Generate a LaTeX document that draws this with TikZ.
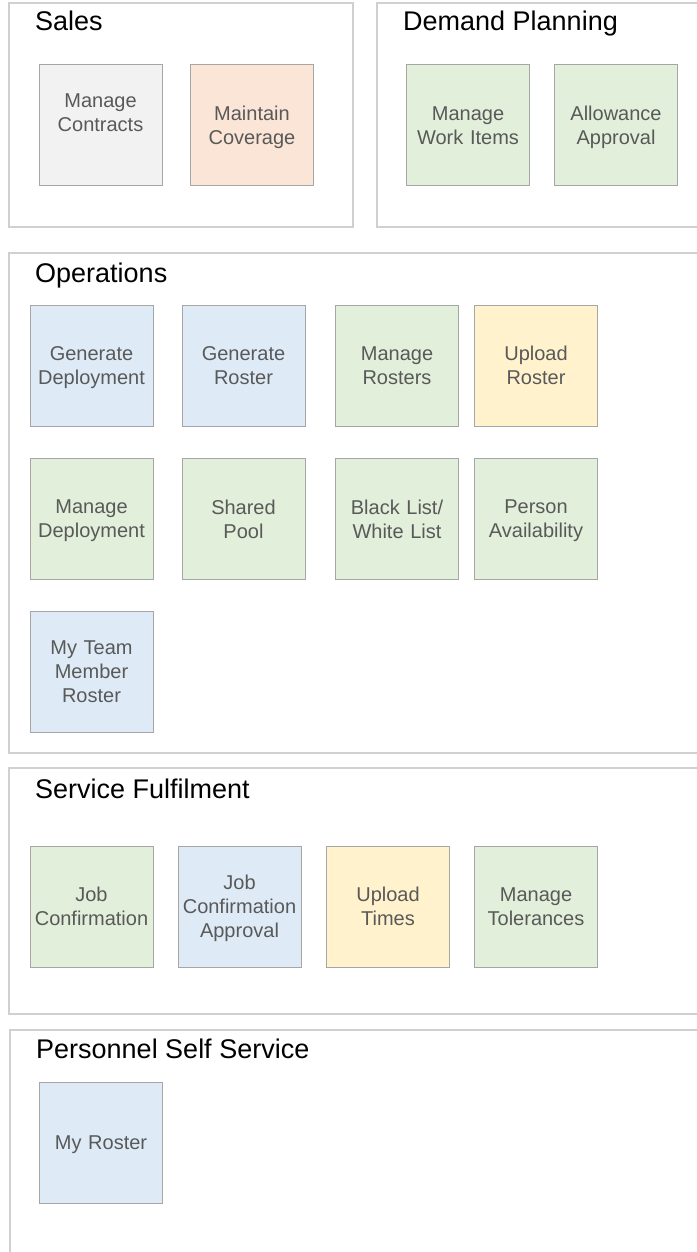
\documentclass[tikz,border=0pt]{standalone}
\usepackage{fontspec}
\setmainfont{Liberation Sans}
\usepackage{tikz}

\definecolor{tilegrey}{HTML}{F2F2F2}
\definecolor{tilepeach}{HTML}{FBE5D6}
\definecolor{tilegreen}{HTML}{E2EFDA}
\definecolor{tileblue}{HTML}{DEEBF7}
\definecolor{tileyellow}{HTML}{FFF2CC}
\definecolor{tileline}{HTML}{A6A6A6}
\definecolor{arealine}{HTML}{D0D0D0}
\definecolor{tiletext}{HTML}{595959}

\newcommand{\tilefont}{\fontsize{20}{24}\selectfont}
\newcommand{\areafont}{\fontsize{27}{30}\selectfont}

\tikzset{
	tile/.style={draw=tileline,line width=1pt,minimum width=123pt,minimum height=121pt,
		inner sep=0pt,text width=121pt,align=center,text=tiletext,font=\tilefont},
	area/.style={draw=arealine,line width=1.3pt},
	areatitle/.style={anchor=base west,inner sep=0pt,font=\areafont},
	lifted/.style={text depth=50pt},
	sunkone/.style={text depth=0pt},
	sunktwo/.style={text depth=24pt},
	sunkthree/.style={text depth=48pt},
	plain/.style={}
}

\begin{document}
\begin{tikzpicture}[x=1pt,y=-1pt]
\useasboundingbox (0,0) rectangle (696,1252);
% areas
\draw[area] (9,3) rectangle (353,227);
\draw[area] (377,3) rectangle (710,227);
\draw[area] (9,253) rectangle (710,753);
\draw[area] (9,768) rectangle (710,1014);
\draw[area] (10,1030) rectangle (710,1270);
\node[areatitle] (sales) at (35,31) {Sales};
\node[areatitle] (demand) at (403,31) {Demand Planning};
\node[areatitle] (ops) at (35,282) {Operations};
\node[areatitle] (service) at (35,798) {Service Fulfilment};
\node[areatitle] (selfservice) at (36,1058) {Personnel Self Service};
% tiles
\foreach \n/\x/\c/\l/\s in{
	contracts/{(100.5,125.5)}/tilegrey/{Manage\\Contracts}/lifted,
	coverage/{(252,125.5)}/tilepeach/{Maintain\\Coverage}/sunktwo,
	workitems/{(468,125.5)}/tilegreen/{Manage\\Work Items}/plain,
	allowance/{(616,125.5)}/tilegreen/{Allowance\\Approval}/sunktwo,
	gendeploy/{(91.5,365.5)}/tileblue/{Generate\\Deployment}/sunktwo,
	genroster/{(243.5,365.5)}/tileblue/{Generate\\Roster}/plain,
	rosters/{(397,365.5)}/tilegreen/{Manage\\Rosters}/plain,
	uproster/{(536,365.5)}/tileyellow/{Upload\\Roster}/plain,
	deploy/{(91.5,519)}/tilegreen/{Manage\\Deployment}/sunktwo,
	pool/{(243.5,519)}/tilegreen/{Shared\\Pool}/plain,
	blacklist/{(397,519)}/tilegreen/{Black List/\\White List}/plain,
	avail/{(536,519)}/tilegreen/{Person\\Availability}/sunktwo,
	teamroster/{(91.5,672)}/tileblue/{My Team\\Member\\Roster}/plain,
	jobconf/{(91.5,906.5)}/tilegreen/{Job\\Confirmation}/plain,
	jobappr/{(239.5,906.5)}/tileblue/{Job\\Confirmation\\Approval}/sunkthree,
	uptimes/{(388,906.5)}/tileyellow/{Upload\\Times}/plain,
	tolerances/{(536,906.5)}/tilegreen/{Manage\\Tolerances}/plain,
	myroster/{(101,1142.5)}/tileblue/{My Roster}/sunkone%
}
{
	\node[tile,fill=\c,\s] (\n) at \x {\l};
}
\end{tikzpicture}
\end{document}
